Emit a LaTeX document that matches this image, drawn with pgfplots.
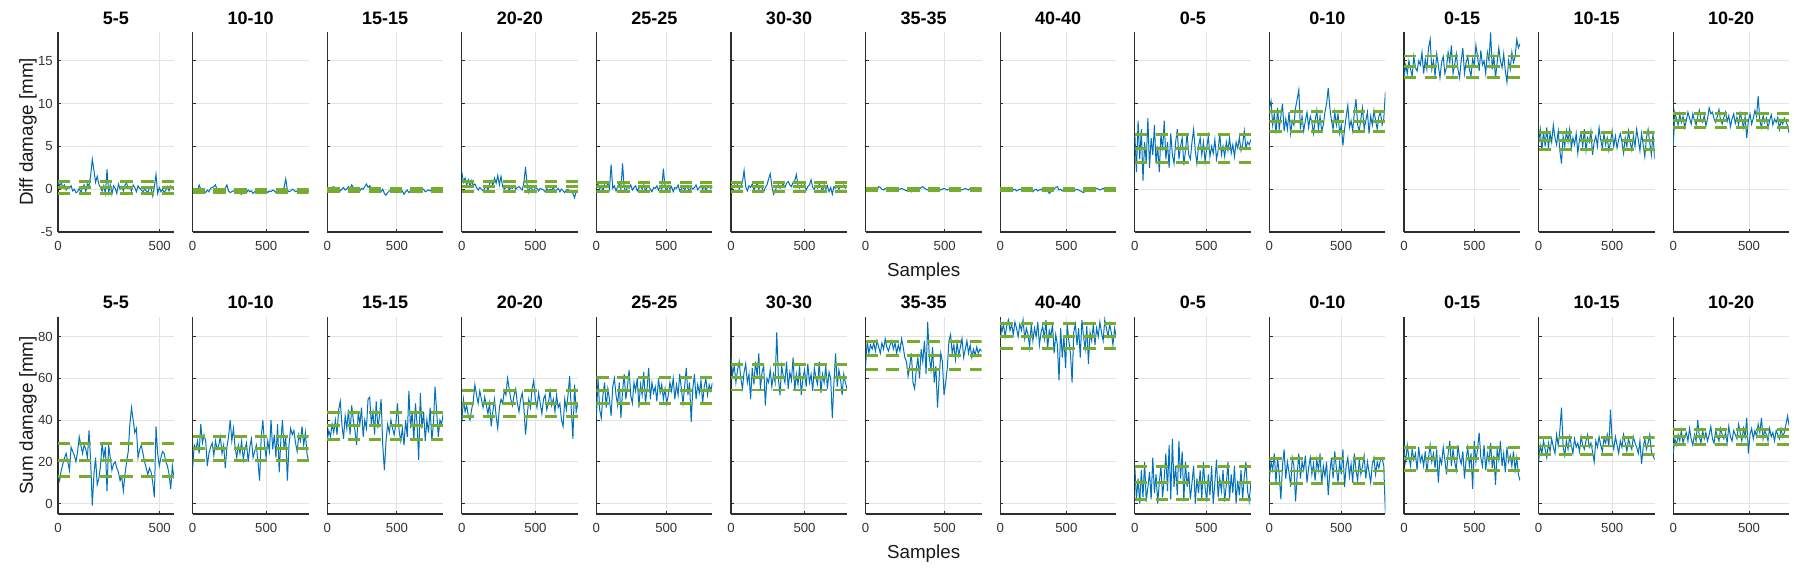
\documentclass[border=0pt]{standalone}
\usepackage{fontspec}
\setmainfont{Liberation Sans}
\usepackage{pgfplots}
\usepackage{pgfplotstable}
\pgfplotsset{compat=1.18}
\definecolor{mblue}{RGB}{0,114,189}
\definecolor{mgreen}{RGB}{119,172,48}
\pgfplotsset{
 /pgf/number format/assume math mode=true,
 base/.style={scale only axis, width=58pt, anchor=south west,
  axis lines=left, axis line style={-, draw=black!82, line width=0.6pt},
  tick align=inside, major tick length=1.6pt, tick style={draw=black!82, line width=0.5pt},
  grid=major, major grid style={draw=black!11, line width=0.45pt},
  xmin=0, xtick={0,500}, scaled ticks=false, enlargelimits=false,
  ticklabel style={font=\fontsize{6.6}{7.5}\selectfont, text=black!80},
  xticklabel style={yshift=-1.0pt}, yticklabel style={xshift=0.9pt},
  title style={font=\bfseries\fontsize{9}{10}\selectfont, anchor=center},
  label style={font=\fontsize{9.4}{11}\selectfont, text=black!90}},
 top/.style={base, height=100pt, ymin=-5, ymax=18.36, ytick={-5,0,5,10,15}, title style={at={(0.5,1.006)}}},
 bot/.style={base, height=98.5pt, ymin=-5, ymax=89.4, ytick={0,20,40,60,80}, title style={at={(0.5,1.015)}}},
 topc/.style={at={(29pt+67.3pt*#1,175pt)}},
 botc/.style={at={(29pt+67.3pt*#1,34pt)}},
 nolab/.style={yticklabels={}},
 ylab/.style={ylabel={#1}, ylabel style={at={(axis description cs:-0.259,0.5)}, anchor=center}},
 xlab/.style={xlabel={Samples}, xlabel style={at={(axis description cs:0.5,-0.2)}, anchor=center}},
 bline/.style={draw=mblue, line width=0.5pt, no markers},
 gline/.style={draw=mgreen, line width=1.45pt, dash pattern=on 6.2pt off 4.2pt, no markers},
}
\newcommand{\panel}[8]{%
\begin{axis}[#1, xmax=#2, title={#8}]
\addplot[bline] table[x expr=\coordindex*#3, y index=0] {#4};
\addplot[gline] coordinates {(0,#5) (#2,#5)};
\addplot[gline] coordinates {(0,#6) (#2,#6)};
\addplot[gline] coordinates {(0,#7) (#2,#7)};
\end{axis}}
% ---- top row: Diff damage
\pgfplotstableread[header=false,row sep=\\]{
0.9\\0.4\\0.7\\0.2\\0.5\\-0.1\\0.3\\0.1\\0.4\\-0.2\\0.0\\-0.4\\
-0.3\\0.1\\-0.4\\0.2\\0.5\\-0.3\\0.6\\0.4\\1.6\\3.5\\2.2\\0.8\\
1.5\\0.6\\0.2\\-0.2\\0.4\\-0.5\\2.3\\-0.4\\0.5\\-0.6\\0.4\\0.1\\
-0.5\\0.6\\0.0\\0.3\\-0.2\\0.5\\0.7\\0.1\\0.3\\-0.2\\0.5\\0.2\\
-0.3\\0.4\\0.1\\-0.1\\-0.3\\0.0\\-0.2\\-0.4\\0.2\\0.1\\-0.8\\0.3\\
1.7\\-0.5\\0.2\\-0.3\\0.0\\-0.4\\-0.1\\0.3\\-0.2\\0.4\\0.2\\-0.1\\}\TA
\pgfplotstableread[header=false,row sep=\\]{
-0.1\\-0.3\\0.0\\-0.2\\0.5\\0.0\\-0.3\\-0.2\\-0.4\\-0.1\\-0.3\\0.1\\
0.2\\0.3\\0.5\\-0.1\\-0.3\\-0.2\\-0.1\\-0.3\\0.1\\0.5\\-0.2\\-0.4\\
-0.3\\-0.2\\-0.1\\-0.4\\-0.3\\-0.5\\-0.6\\-0.2\\-0.3\\-0.4\\-0.1\\-0.3\\
-0.2\\-0.5\\-0.3\\-0.4\\-0.2\\-0.3\\-0.5\\-0.2\\-0.3\\-0.1\\-0.4\\-0.2\\
-0.3\\-0.1\\-0.2\\-0.4\\0.0\\-0.2\\-0.3\\-0.1\\0.2\\1.2\\-0.1\\-0.3\\
-0.2\\0.0\\-0.1\\-0.3\\-0.2\\-0.4\\-0.1\\-0.2\\-0.3\\-0.1\\-0.2\\-0.3\\}\TB
\pgfplotstableread[header=false,row sep=\\]{
0.1\\-0.1\\0.0\\0.2\\0.3\\-0.1\\0.0\\0.1\\-0.2\\0.0\\0.2\\-0.1\\
0.0\\0.3\\0.1\\0.5\\0.2\\-0.1\\0.0\\0.2\\-0.2\\0.1\\0.0\\0.3\\
0.6\\0.2\\0.4\\0.1\\-0.1\\0.0\\-0.2\\-0.1\\0.1\\-0.3\\0.0\\-0.5\\
-0.7\\-0.4\\-0.2\\-0.1\\-0.3\\0.0\\-0.2\\-0.4\\-0.1\\-0.3\\-0.2\\-0.6\\
-0.3\\-0.1\\-0.4\\-0.2\\0.0\\-0.3\\-0.1\\-0.2\\-0.4\\-0.2\\-0.1\\0.0\\
-0.3\\-0.2\\-0.1\\-0.2\\0.0\\-0.1\\-0.2\\0.0\\-0.1\\-0.2\\0.0\\-0.1\\}\TC
\pgfplotstableread[header=false,row sep=\\]{
2.0\\0.8\\1.3\\0.5\\1.1\\0.3\\1.0\\0.4\\0.6\\0.2\\-0.1\\0.2\\
0.0\\-0.2\\0.1\\0.3\\-0.1\\0.6\\1.0\\0.4\\1.3\\0.7\\1.6\\0.5\\
1.5\\0.3\\0.0\\0.2\\0.3\\-0.1\\0.2\\0.1\\0.4\\0.0\\0.2\\0.3\\
0.1\\-0.1\\0.8\\2.6\\0.4\\-0.4\\0.3\\0.0\\-0.3\\0.2\\0.1\\-0.2\\
0.1\\0.0\\-0.1\\-0.3\\0.1\\-0.2\\0.0\\-0.1\\0.2\\-0.2\\-0.1\\0.1\\
-0.3\\0.0\\-0.2\\-0.4\\-0.1\\0.0\\-0.3\\-0.2\\-0.5\\-1.0\\-0.3\\-0.1\\}\TD
\pgfplotstableread[header=false,row sep=\\]{
0.3\\0.6\\0.0\\0.4\\-0.2\\0.5\\0.2\\0.7\\0.0\\2.9\\0.1\\0.4\\
-0.2\\0.3\\0.6\\0.0\\3.0\\0.2\\-0.3\\0.3\\0.1\\0.5\\-0.1\\0.2\\
0.4\\-0.2\\0.1\\0.3\\0.0\\0.5\\-0.2\\0.2\\0.4\\0.0\\-0.3\\0.2\\
0.1\\0.4\\-0.1\\0.3\\0.0\\2.4\\0.2\\-0.2\\0.4\\0.0\\0.3\\-0.3\\
0.2\\0.1\\0.5\\-0.2\\0.0\\0.3\\-0.1\\0.4\\0.1\\-0.2\\0.3\\0.0\\
0.2\\0.5\\-0.1\\0.2\\0.4\\0.0\\0.3\\-0.1\\0.2\\0.4\\0.1\\0.3\\}\TE
\pgfplotstableread[header=false,row sep=\\]{
0.3\\0.1\\0.5\\0.2\\0.6\\0.0\\0.4\\0.8\\2.2\\0.3\\-0.2\\0.4\\
0.2\\0.6\\-0.1\\0.3\\0.7\\0.0\\0.4\\0.1\\-0.3\\0.2\\0.5\\1.2\\
1.8\\0.4\\-0.6\\-0.2\\0.3\\0.5\\0.1\\0.4\\0.6\\0.2\\0.7\\0.9\\
0.5\\0.3\\0.8\\1.0\\1.7\\0.4\\0.1\\0.5\\0.2\\0.6\\-0.1\\0.3\\
0.5\\1.1\\0.2\\0.0\\0.4\\0.1\\0.6\\0.3\\-0.2\\0.5\\0.0\\0.4\\
-0.3\\0.2\\-0.6\\0.3\\0.1\\0.4\\0.0\\0.3\\0.2\\0.5\\0.1\\0.3\\}\TF
\pgfplotstableread[header=false,row sep=\\]{
0.0\\0.1\\-0.1\\0.0\\0.2\\0.1\\0.0\\-0.1\\0.3\\0.2\\0.0\\-0.1\\
0.1\\0.0\\-0.1\\0.0\\0.1\\-0.1\\-0.2\\0.0\\-0.1\\0.0\\0.1\\0.0\\
-0.1\\-0.2\\-0.1\\0.0\\-0.3\\-0.1\\0.0\\0.1\\-0.1\\0.0\\0.2\\0.3\\
0.1\\0.0\\-0.1\\0.0\\0.1\\-0.2\\-0.3\\-0.1\\0.0\\0.1\\-0.1\\0.0\\
0.1\\0.0\\-0.1\\0.0\\0.1\\0.0\\-0.1\\0.0\\0.1\\0.2\\0.0\\-0.1\\
0.0\\0.1\\0.0\\-0.1\\0.1\\0.0\\0.1\\-0.1\\0.0\\0.1\\0.0\\0.0\\}\TG
\pgfplotstableread[header=false,row sep=\\]{
-0.1\\0.0\\-0.1\\0.0\\-0.2\\-0.1\\0.1\\0.2\\-0.1\\0.0\\-0.2\\-0.1\\
0.0\\-0.1\\-0.2\\0.0\\-0.1\\0.1\\-0.1\\0.0\\-0.3\\-0.1\\0.0\\-0.2\\
-0.1\\0.0\\-0.2\\-0.1\\-0.3\\-0.1\\-0.5\\-0.3\\-0.1\\0.0\\0.2\\0.3\\
-0.1\\0.0\\-0.2\\-0.1\\0.0\\-0.1\\-0.2\\0.0\\-0.1\\-0.2\\-0.1\\0.0\\
-0.1\\-0.2\\-0.3\\-0.4\\-0.2\\-0.1\\0.0\\-0.1\\-0.2\\-0.1\\0.0\\0.1\\
0.0\\-0.1\\0.0\\0.1\\-0.1\\0.0\\0.1\\0.0\\-0.1\\0.0\\-0.1\\0.0\\}\TH
\pgfplotstableread[header=false,row sep=\\]{
6.5\\2.0\\8.0\\3.5\\7.0\\1.0\\5.5\\3.0\\8.3\\2.5\\6.0\\4.0\\
7.5\\3.0\\5.0\\2.0\\6.5\\4.5\\8.0\\3.5\\5.5\\2.5\\6.5\\4.0\\
3.0\\5.5\\7.0\\3.5\\5.0\\6.0\\2.8\\4.5\\6.5\\4.0\\3.5\\5.5\\
7.0\\4.5\\3.0\\5.0\\6.0\\4.0\\5.5\\3.2\\4.8\\6.2\\3.8\\5.0\\
4.2\\5.8\\3.5\\4.5\\6.5\\4.0\\5.0\\3.8\\5.5\\4.5\\6.0\\4.2\\
5.2\\3.8\\5.5\\4.8\\6.0\\4.5\\5.2\\6.8\\4.8\\5.5\\5.2\\5.8\\}\TI
\pgfplotstableread[header=false,row sep=\\]{
9.5\\10.3\\7.5\\8.8\\6.5\\9.5\\7.0\\8.5\\10.0\\6.8\\8.2\\7.0\\
9.0\\6.5\\8.0\\7.5\\9.5\\10.5\\11.6\\7.0\\8.5\\6.8\\8.0\\9.0\\
7.2\\8.5\\7.8\\6.5\\8.0\\9.2\\7.0\\8.5\\6.8\\7.5\\9.0\\10.0\\
11.8\\9.5\\8.0\\7.0\\9.0\\7.5\\8.8\\6.5\\7.5\\5.1\\7.0\\8.5\\
9.8\\7.2\\8.0\\6.8\\9.0\\10.5\\7.5\\6.8\\8.2\\9.5\\7.0\\8.0\\
9.0\\6.5\\8.5\\7.5\\9.2\\8.0\\7.0\\8.5\\9.0\\7.5\\8.2\\11.4\\}\TJ
\pgfplotstableread[header=false,row sep=\\]{
13.0\\14.5\\13.5\\15.0\\14.0\\13.2\\15.5\\14.2\\13.8\\15.0\\14.5\\16.0\\
13.5\\15.2\\14.0\\16.5\\17.5\\14.0\\15.0\\13.2\\15.8\\14.5\\13.0\\14.8\\
15.5\\13.5\\14.2\\16.0\\14.8\\16.8\\13.5\\14.5\\15.8\\14.0\\13.0\\15.0\\
16.5\\13.5\\14.8\\15.5\\14.0\\13.2\\15.2\\14.5\\16.8\\15.5\\13.8\\16.2\\
14.5\\15.0\\13.5\\16.0\\15.0\\18.3\\14.0\\15.5\\13.0\\14.8\\16.5\\15.0\\
14.2\\15.8\\13.8\\12.5\\15.0\\14.0\\16.0\\14.8\\15.5\\17.5\\16.5\\17.0\\}\TK
\pgfplotstableread[header=false,row sep=\\]{
5.5\\7.0\\4.5\\6.8\\5.0\\7.2\\4.8\\6.5\\5.5\\7.5\\6.0\\5.2\\
6.8\\4.5\\3.0\\6.2\\5.0\\6.8\\5.5\\7.0\\4.8\\6.0\\5.2\\6.5\\
4.2\\5.8\\6.5\\5.0\\7.0\\4.5\\6.0\\5.5\\6.8\\4.0\\5.5\\6.2\\
5.0\\7.2\\5.8\\4.8\\6.5\\5.2\\6.0\\4.5\\5.5\\6.8\\5.0\\6.2\\
4.8\\5.8\\6.5\\5.5\\4.2\\6.0\\5.0\\6.8\\5.5\\4.6\\6.2\\5.0\\
7.0\\5.8\\4.5\\6.5\\5.2\\3.8\\6.0\\7.0\\5.5\\4.0\\6.5\\3.5\\}\TL
\pgfplotstableread[header=false,row sep=\\]{
5.0\\9.0\\8.2\\7.5\\8.8\\7.8\\8.5\\7.2\\8.0\\9.0\\8.3\\7.6\\
8.8\\8.0\\7.5\\8.5\\9.2\\8.0\\7.8\\8.6\\7.4\\8.2\\9.5\\8.8\\
9.0\\8.2\\7.8\\8.5\\9.3\\8.0\\7.6\\8.4\\9.0\\7.9\\8.6\\7.3\\
8.2\\8.8\\7.7\\8.4\\7.5\\8.9\\8.1\\7.2\\8.5\\6.0\\8.0\\8.8\\
7.6\\8.3\\9.2\\8.5\\10.9\\8.0\\7.2\\8.6\\7.8\\8.3\\7.1\\8.0\\
8.7\\7.5\\8.2\\7.8\\8.4\\7.0\\8.1\\7.6\\8.3\\7.9\\7.4\\6.5\\}\TM
% ---- bottom row: Sum damage
\pgfplotstableread[header=false,row sep=\\]{
14\\11\\16\\19\\22\\24\\20\\16\\27\\25\\23\\20\\
25\\32\\28\\24\\28\\26\\22\\35\\20\\-1\\14\\22\\
9\\12\\18\\29\\22\\27\\6\\28\\22\\16\\19\\20\\
17\\15\\11\\13\\6\\14\\20\\25\\38\\46\\40\\34\\
36\\22\\26\\28\\24\\20\\17\\14\\17\\15\\10\\3\\
37\\24\\18\\22\\25\\24\\20\\18\\14\\7\\18\\12\\}\BA
\pgfplotstableread[header=false,row sep=\\]{
17\\28\\26\\30\\24\\38\\29\\33\\30\\18\\24\\27\\
29\\23\\30\\26\\28\\32\\24\\28\\17\\27\\32\\40\\
30\\36\\27\\22\\28\\24\\30\\21\\26\\29\\20\\27\\
31\\22\\25\\28\\20\\11\\32\\40\\28\\22\\30\\25\\
40\\26\\33\\22\\38\\15\\30\\40\\26\\32\\11\\28\\
36\\33\\35\\29\\25\\33\\30\\37\\28\\34\\24\\20\\}\BB
\pgfplotstableread[header=false,row sep=\\]{
30\\35\\32\\38\\34\\40\\33\\45\\49\\38\\31\\42\\
36\\45\\33\\47\\40\\35\\28\\44\\38\\46\\32\\40\\
36\\50\\51\\38\\44\\33\\49\\36\\42\\50\\28\\16\\
30\\38\\34\\40\\36\\33\\38\\48\\35\\30\\36\\28\\
40\\32\\54\\36\\44\\30\\48\\38\\21\\53\\36\\44\\
30\\40\\34\\46\\30\\38\\56\\44\\32\\40\\38\\43\\}\BC
\pgfplotstableread[header=false,row sep=\\]{
39\\50\\44\\47\\42\\40\\45\\49\\57\\52\\48\\54\\
50\\46\\51\\47\\43\\48\\37\\44\\50\\42\\36\\46\\
50\\48\\54\\52\\60\\55\\50\\47\\52\\55\\48\\44\\
50\\53\\46\\33\\42\\50\\46\\55\\59\\50\\46\\53\\
48\\43\\50\\52\\45\\48\\54\\47\\50\\44\\52\\46\\
48\\40\\37\\50\\45\\52\\61\\45\\31\\57\\44\\48\\}\BD
\pgfplotstableread[header=false,row sep=\\]{
42\\60\\45\\41\\52\\58\\46\\55\\50\\42\\56\\60\\
52\\47\\58\\41\\54\\62\\50\\56\\64\\52\\48\\58\\
54\\60\\46\\57\\52\\63\\48\\55\\65\\50\\58\\53\\
56\\49\\60\\53\\57\\50\\55\\48\\52\\58\\54\\60\\
50\\57\\52\\62\\55\\48\\56\\65\\52\\58\\39\\55\\
62\\50\\57\\53\\59\\48\\56\\60\\52\\57\\54\\58\\}\BE
\pgfplotstableread[header=false,row sep=\\]{
70\\62\\66\\58\\64\\68\\60\\55\\63\\67\\58\\62\\
50\\65\\57\\68\\61\\72\\55\\63\\66\\47\\60\\58\\
64\\56\\62\\58\\82\\60\\52\\66\\61\\58\\68\\55\\
63\\59\\70\\54\\62\\57\\66\\52\\60\\64\\56\\67\\
58\\62\\54\\65\\60\\57\\68\\53\\62\\58\\66\\55\\
63\\60\\41\\58\\72\\56\\64\\60\\52\\62\\58\\55\\}\BF
\pgfplotstableread[header=false,row sep=\\]{
66\\78\\72\\76\\74\\77\\73\\78\\75\\72\\77\\74\\
79\\75\\73\\76\\78\\74\\77\\72\\76\\73\\79\\75\\
70\\68\\61\\66\\72\\58\\55\\64\\70\\60\\74\\68\\
78\\62\\87\\70\\64\\75\\58\\66\\46\\60\\72\\68\\
52\\58\\65\\78\\81\\72\\76\\69\\77\\71\\75\\79\\
70\\74\\78\\72\\76\\70\\74\\71\\75\\72\\74\\73\\}\BG
\pgfplotstableread[header=false,row sep=\\]{
88\\82\\86\\80\\85\\88\\83\\86\\81\\87\\84\\80\\
86\\83\\88\\79\\84\\81\\75\\86\\78\\84\\80\\87\\
76\\82\\85\\79\\88\\74\\83\\80\\86\\72\\81\\76\\
59\\84\\70\\80\\65\\86\\78\\72\\58\\82\\86\\76\\
84\\70\\88\\80\\74\\85\\67\\82\\78\\86\\76\\84\\
80\\87\\82\\78\\88\\84\\80\\86\\82\\76\\84\\80\\}\BH
\pgfplotstableread[header=false,row sep=\\]{
18\\2\\12\\0\\16\\3\\20\\1\\8\\15\\2\\22\\
5\\14\\0\\10\\18\\3\\12\\24\\6\\28\\2\\31\\
8\\18\\4\\30\\12\\25\\1\\20\\8\\15\\2\\10\\
18\\0\\12\\5\\16\\2\\20\\8\\1\\14\\4\\18\\
0\\10\\21\\3\\12\\6\\16\\1\\9\\20\\2\\14\\
5\\18\\0\\11\\4\\16\\2\\13\\20\\6\\1\\10\\}\BI
\pgfplotstableread[header=false,row sep=\\]{
12\\20\\16\\24\\10\\22\\14\\2\\18\\26\\12\\20\\
15\\8\\22\\18\\1\\14\\24\\12\\20\\16\\23\\10\\
17\\22\\14\\19\\11\\21\\16\\24\\9\\18\\13\\20\\
4\\15\\22\\12\\25\\17\\10\\20\\14\\26\\8\\18\\
22\\13\\19\\10\\24\\16\\11\\21\\14\\18\\23\\12\\
20\\15\\10\\19\\22\\14\\20\\17\\21\\22\\18\\-4.8\\}\BJ
\pgfplotstableread[header=false,row sep=\\]{
25\\20\\28\\22\\18\\26\\21\\24\\16\\27\\20\\23\\
18\\25\\15\\22\\28\\20\\24\\17\\26\\10\\22\\19\\
27\\21\\14\\24\\30\\18\\26\\20\\16\\28\\22\\19\\
25\\12\\21\\27\\18\\24\\7\\30\\20\\26\\34\\22\\
18\\28\\16\\24\\20\\29\\17\\23\\9\\26\\21\\30\\
18\\24\\15\\27\\20\\23\\18\\25\\16\\22\\14\\11\\}\BK
\pgfplotstableread[header=false,row sep=\\]{
20\\28\\24\\30\\26\\22\\29\\25\\31\\27\\24\\33\\
28\\35\\46\\27\\23\\30\\26\\32\\28\\24\\31\\27\\
29\\25\\32\\28\\26\\30\\33\\27\\29\\25\\20\\30\\
27\\32\\28\\25\\31\\29\\33\\27\\45\\30\\26\\32\\
28\\24\\30\\27\\33\\29\\25\\31\\28\\26\\32\\29\\
27\\24\\30\\19\\27\\31\\26\\29\\33\\25\\23\\21\\}\BL
\pgfplotstableread[header=false,row sep=\\]{
24\\31\\28\\33\\30\\35\\29\\32\\34\\30\\36\\31\\
28\\33\\30\\40\\32\\29\\35\\31\\34\\30\\33\\37\\
31\\29\\35\\32\\30\\36\\33\\31\\34\\29\\37\\32\\
30\\35\\33\\31\\38\\34\\30\\36\\32\\41\\24\\33\\
36\\31\\35\\32\\38\\34\\41\\31\\35\\33\\30\\36\\
32\\34\\30\\35\\33\\31\\36\\32\\34\\38\\42\\37\\}\BM
\begin{document}
\begin{tikzpicture}
\path[use as bounding box] (0,0) rectangle (897pt,291pt);
% top row
\panel{top,topc=0,ylab={Diff damage [mm]}}{570}{8.028}{\TA}{0.86}{0.17}{-0.51}{5-5}
\panel{top,topc=1,nolab}{788}{11.099}{\TB}{0.0}{-0.2}{-0.42}{10-10}
\panel{top,topc=2,nolab}{832}{11.718}{\TC}{0.1}{-0.08}{-0.27}{15-15}
\panel{top,topc=3,nolab}{787}{11.085}{\TD}{0.86}{0.27}{-0.31}{20-20}
\panel{top,topc=4,nolab}{830}{11.690}{\TE}{0.75}{0.27}{-0.24}{25-25}
\panel{top,topc=5,nolab}{789}{11.113}{\TF}{0.78}{0.28}{-0.22}{30-30}
\panel{top,topc=6,nolab,xlab}{733}{10.324}{\TG}{0.12}{0.0}{-0.12}{35-35}
\panel{top,topc=7,nolab}{876}{12.338}{\TH}{0.05}{-0.08}{-0.2}{40-40}
\panel{top,topc=8,nolab}{810}{11.408}{\TI}{6.35}{4.75}{3.1}{0-5}
\panel{top,topc=9,nolab}{809}{11.394}{\TJ}{9.05}{7.9}{6.75}{0-10}
\panel{top,topc=10,nolab}{823}{11.592}{\TK}{15.55}{14.3}{13.05}{0-15}
\panel{top,topc=11,nolab}{788}{11.099}{\TL}{6.65}{5.65}{4.6}{10-15}
\panel{top,topc=12,nolab}{765}{10.775}{\TM}{8.8}{8.04}{7.25}{10-20}
% bottom row
\panel{bot,botc=0,ylab={Sum damage [mm]}}{570}{8.028}{\BA}{28.6}{20.7}{12.9}{5-5}
\panel{bot,botc=1,nolab}{788}{11.099}{\BB}{32.0}{26.4}{20.7}{10-10}
\panel{bot,botc=2,nolab}{832}{11.718}{\BC}{43.7}{37.2}{30.5}{15-15}
\panel{bot,botc=3,nolab}{787}{11.085}{\BD}{54.1}{47.9}{41.8}{20-20}
\panel{bot,botc=4,nolab}{830}{11.690}{\BE}{60.4}{54.2}{48.0}{25-25}
\panel{bot,botc=5,nolab}{789}{11.113}{\BF}{66.7}{60.5}{54.4}{30-30}
\panel{bot,botc=6,nolab,xlab}{733}{10.324}{\BG}{77.8}{71.1}{64.3}{35-35}
\panel{bot,botc=7,nolab}{876}{12.338}{\BH}{86.1}{80.2}{74.3}{40-40}
\panel{bot,botc=8,nolab}{810}{11.408}{\BI}{17.9}{9.9}{1.9}{0-5}
\panel{bot,botc=9,nolab}{809}{11.394}{\BJ}{21.7}{15.6}{9.6}{0-10}
\panel{bot,botc=10,nolab}{823}{11.592}{\BK}{26.8}{21.4}{15.9}{0-15}
\panel{bot,botc=11,nolab}{788}{11.099}{\BL}{31.7}{27.6}{23.3}{10-15}
\panel{bot,botc=12,nolab}{765}{10.775}{\BM}{35.7}{32.2}{28.5}{10-20}
\end{tikzpicture}
\end{document}
